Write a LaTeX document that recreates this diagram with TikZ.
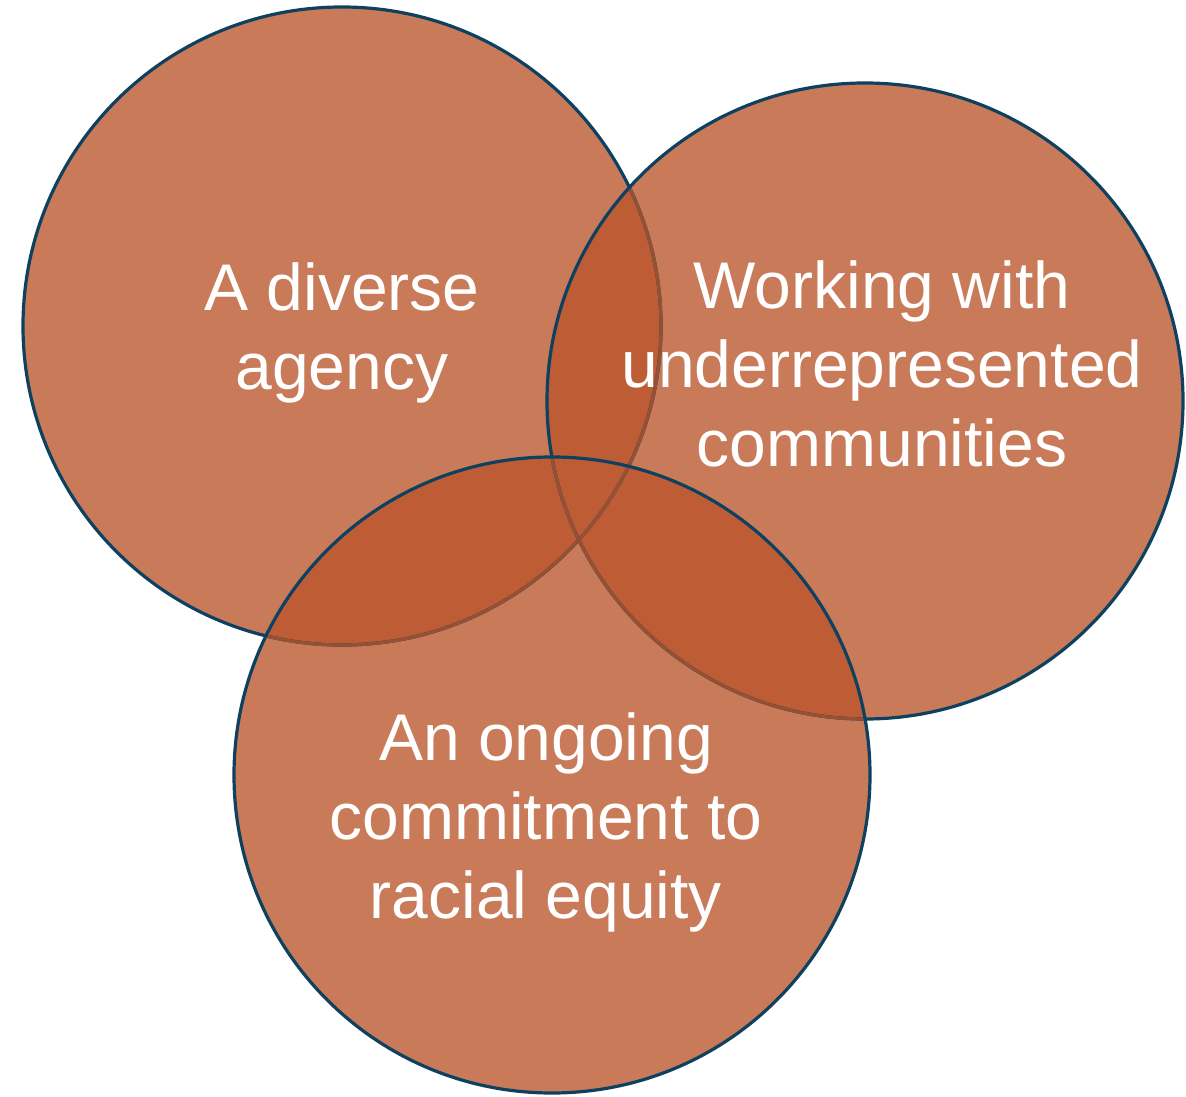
\documentclass[tikz,border=0pt]{standalone}
\usepackage{fontspec}
\setmainfont{Liberation Sans}
\definecolor{vennlgt}{RGB}{201,122,88}
\definecolor{venndrk}{RGB}{190,93,53}
\definecolor{vennnvy}{RGB}{14,64,96}
\definecolor{vennmut}{RGB}{150,80,52}
\usepackage{tikz}

\def\agencyring{(342,326) circle[radius=319]}
\def\commring{(865,401) circle[radius=318]}
\def\equityring{(552,775) circle[radius=318]}

\tikzset{
venntext/.style={text=white, align=center, font=\fontsize{66}{79}\selectfont},
vennline/.style={line width=3.2pt}
}

\begin{document}
\begin{tikzpicture}[x=1pt,y=-1pt]
\useasboundingbox (0,0) rectangle (1186,1097);
% fills
\fill[vennlgt] \agencyring;
\fill[vennlgt] \commring;
\fill[vennlgt] \equityring;
\begin{scope}
\clip \agencyring;
\fill[venndrk] \commring;
\fill[venndrk] \equityring;
\end{scope}
\begin{scope}
\clip \commring;
\fill[venndrk] \equityring;
\end{scope}
% outlines
\draw[vennline, vennnvy] \agencyring;
\begin{scope}
\clip \commring;
\draw[vennline, vennmut] \agencyring;
\end{scope}
\begin{scope}
\clip \equityring;
\draw[vennline, vennmut] \agencyring;
\end{scope}
\draw[vennline, vennnvy] \commring;
\begin{scope}
\clip \equityring;
\draw[vennline, vennmut] \commring;
\end{scope}
\draw[vennline, vennnvy] \equityring;
% labels
\node[venntext] (agency) at (342,333) {A diverse\\agency};
\node[venntext] (comm) at (882,364) {Working with\\underrepresented\\communities};
\node[venntext] (equity) at (546,822) {An ongoing\\commitment to\\racial equity};
\end{tikzpicture}
\end{document}
